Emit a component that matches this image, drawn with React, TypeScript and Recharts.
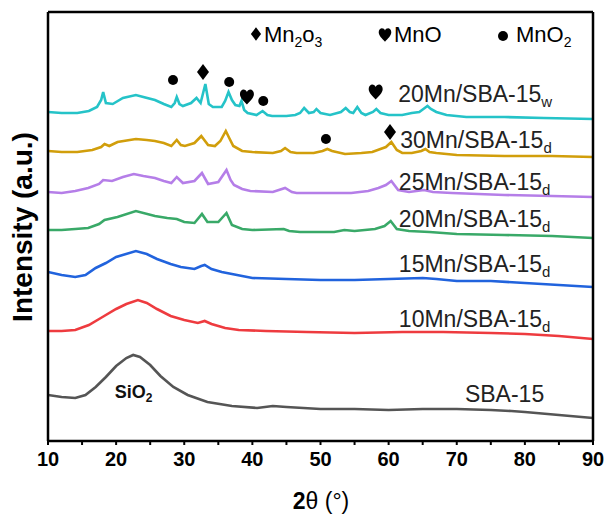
import React from "react";
import { LineChart, Line, XAxis, YAxis, ReferenceDot } from "recharts";

type Pt = [number, number];

// 2θ (deg) vs. offset-stacked intensity (a.u.)
const mn20w: Pt[] = [
  [10, 329], [12, 328], [14.3, 328], [16, 330], [17.2, 334], [17.8, 341], [18.1, 349], [18.5, 338],
  [19.5, 337], [21, 343], [22.9, 346], [24, 344], [25.7, 341], [27, 337], [28.1, 334], [28.6, 338],
  [28.9, 344], [29.3, 337], [29.8, 335], [31, 338], [31.8, 343], [32.4, 338], [33.1, 357], [33.6, 337],
  [34.2, 334], [35.5, 334], [36, 340], [36.5, 349], [37, 341], [37.5, 336], [38.1, 335], [38.4, 340],
  [38.8, 331], [39.3, 328], [40.6, 326], [41.5, 330], [42.2, 326], [42.9, 325], [45, 325], [46.3, 326],
  [47, 328], [47.6, 333], [48.3, 328], [49, 329], [49.4, 332], [50, 328], [51.4, 326], [53, 329],
  [53.7, 333], [54.3, 329], [54.8, 328], [55.4, 334], [56, 328], [56.6, 326], [57.7, 329], [58.2, 332],
  [58.8, 328], [60, 326], [62, 326], [63.4, 328], [64.5, 329], [65.3, 333], [65.7, 335], [66.2, 332],
  [67, 329], [68.5, 326], [71.4, 324], [77, 324], [82.8, 323], [90, 322],
];

const mn30d: Pt[] = [
  [10, 290], [12, 289], [14.3, 289], [16.5, 291], [17.8, 294], [18.3, 297], [19, 295], [20.2, 299],
  [22, 301], [22.9, 302], [24.5, 301], [25.7, 300], [27, 298], [28.1, 295], [28.9, 301], [29.5, 296],
  [30.1, 295], [31.5, 298], [32.5, 305], [33.5, 296], [34.5, 295], [35.3, 300], [36.1, 310], [36.6, 303],
  [37.2, 295], [38.5, 290], [40, 289], [43, 288], [44.2, 290], [44.8, 293], [45.6, 289], [46.5, 288],
  [49, 288], [50.3, 290], [51, 292], [51.7, 290], [53.6, 287], [56, 288], [57.6, 289], [58.8, 292],
  [59.6, 294], [60.4, 299], [61.2, 291], [62, 288], [63.4, 288], [64.8, 290], [65.4, 292], [66, 289],
  [67, 288], [70, 286], [77, 285], [84, 285], [90, 284],
];

const mn25d: Pt[] = [
  [10, 249], [12, 248], [14, 250], [15.9, 253], [17.5, 257], [18.1, 261], [19.4, 260], [21, 264],
  [22.6, 267], [24, 265], [25.7, 263], [27, 260], [28.1, 258], [28.9, 264], [29.8, 258], [31.5, 260],
  [32.6, 268], [33.5, 257], [35, 259], [36.2, 271], [36.8, 261], [37.3, 256], [38.5, 252], [39.7, 250],
  [43, 249], [44.8, 253], [45.8, 249], [46.5, 248], [50, 248], [54.5, 248], [57, 250], [58.5, 253],
  [59.6, 256], [60.4, 260], [61.4, 251], [63, 249], [65.2, 251], [66.5, 249], [69.3, 248], [77, 246],
  [84, 245], [90, 244],
];

const mn20d: Pt[] = [
  [10, 211], [12, 211], [14, 212], [15.9, 213], [17.5, 217], [18.3, 221], [20.2, 224], [22.9, 230],
  [25.7, 225], [27.5, 223], [28.9, 222], [30, 219], [31.5, 218], [32.6, 227], [33.4, 219], [35, 219],
  [36.2, 228], [37, 216], [38.5, 212], [40, 211], [44.6, 212], [45.4, 210], [47, 209], [52, 209],
  [53.5, 211], [55, 210], [58, 212], [59.4, 215], [60.3, 220], [61.2, 212], [63, 210], [66, 209],
  [70, 207], [77, 206], [84, 205], [90, 203],
];

const mn15d: Pt[] = [
  [10, 169], [12, 166], [14, 164], [15.5, 166], [17, 173], [18.5, 178], [20, 184], [22.9, 190],
  [24.5, 187], [26, 182], [28, 177], [29.5, 174], [31.5, 172], [32.5, 175], [33, 176], [34, 172],
  [35.5, 169], [37, 167], [38.5, 165], [40, 163], [45, 162], [50, 161], [55, 161], [60, 162],
  [65, 163], [67, 162], [70, 160], [75, 160], [80, 158], [85, 156], [90, 154],
];

const mn10d: Pt[] = [
  [10, 110], [12, 110], [14, 111], [16, 116], [18, 124], [20, 132], [21.5, 137], [23.2, 141],
  [24.5, 138], [26, 132], [28, 125], [30, 121], [32, 118], [33, 120], [34, 117], [36, 113],
  [38, 111], [42, 110], [48, 109], [55, 108], [62, 109], [68, 109], [75, 108], [80, 107],
  [85, 105], [90, 102],
];

const sba15: Pt[] = [
  [10, 46], [12, 44], [14, 43], [15.5, 46], [17, 54], [18.5, 64], [20, 75], [21.5, 83],
  [22.5, 86], [23.5, 84], [25, 76], [26.5, 65], [28.4, 54], [30.5, 46], [33.4, 39], [37, 35],
  [40.7, 33], [43, 35], [45, 34], [50, 32], [55, 32], [60, 31], [65, 32], [70, 32],
  [75, 31], [78, 30], [80, 29], [85, 26], [90, 23],
];

const xTicks = [10, 15, 20, 25, 30, 35, 40, 45, 50, 55, 60, 65, 70, 75, 80, 85, 90];

const series = [
  { key: "mn20w", pts: mn20w, color: "#25c3c8", name: "20Mn/SBA-15", sub: "w", at: [61.4, 339] },
  { key: "mn30d", pts: mn30d, color: "#d19e0b", name: "30Mn/SBA-15", sub: "d", at: [61.7, 293] },
  { key: "mn25d", pts: mn25d, color: "#b57ee8", name: "25Mn/SBA-15", sub: "d", at: [61.5, 251] },
  { key: "mn20d", pts: mn20d, color: "#39a968", name: "20Mn/SBA-15", sub: "d", at: [61.5, 214] },
  { key: "mn15d", pts: mn15d, color: "#2163dd", name: "15Mn/SBA-15", sub: "d", at: [61.5, 169] },
  { key: "mn10d", pts: mn10d, color: "#ee3b3f", name: "10Mn/SBA-15", sub: "d", at: [61.5, 114] },
  { key: "sba15", pts: sba15, color: "#555555", name: "SBA-15", sub: "", at: [71.2, 39] },
];

// phase markers: [2θ, height, kind]
const peakMarks: [number, number, string][] = [
  [28.35, 361, "dot"], [32.75, 369, "diamond"], [36.6, 359, "dot"], [39.2, 344, "heart"],
  [41.6, 340, "dot"], [58.1, 349, "heart"], [50.8, 302, "dot"], [60.2, 309, "diamond"],
];

const FONT = "'Liberation Sans', Arial, sans-serif";
const heartPath =
  "M 0 7.5 C -3 4 -7 1 -7 -3 C -7 -6 -5 -7.5 -3.5 -7.5 C -1.8 -7.5 -0.5 -6.5 0 -5 C 0.5 -6.5 1.8 -7.5 3.5 -7.5 C 5 -7.5 7 -6 7 -3 C 7 1 3 4 0 7.5 Z";

const Marker = ({ cx, cy, kind, s = 1 }: any) => {
  if (kind === "dot") return <circle cx={cx} cy={cy} r={5 * s} fill="#000" />;
  if (kind === "diamond")
    return (
      <path
        d={`M ${cx} ${cy - 8 * s} L ${cx + 6 * s} ${cy} L ${cx} ${cy + 8 * s} L ${cx - 6 * s} ${cy} Z`}
        fill="#000"
      />
    );
  return <path d={heartPath} transform={`translate(${cx},${cy}) scale(${s})`} fill="#000" />;
};

const XTick = ({ x, y, payload }: any) => {
  if (payload.value % 10 !== 0) return null;
  return (
    <text x={x} y={y} dy={19} textAnchor="middle" fontFamily={FONT} fontWeight="bold" fontSize={20} fill="#000">
      {payload.value}
    </text>
  );
};

const toRows = (pts: Pt[]) => pts.map(([x, y]) => ({ x, y }));

const frame = { stroke: "#000", strokeWidth: 2.5 };

export default function App() {
  return (
    <div style={{ position: "absolute", left: 0, top: 0, width: 608, height: 517, background: "#fff" }}>
      <LineChart width={608} height={517} margin={{ top: 11, right: 14, bottom: 46, left: 47 }}>
        <XAxis
          xAxisId="b"
          dataKey="x"
          type="number"
          domain={[10, 90]}
          ticks={xTicks}
          interval={0}
          height={30}
          tickSize={4}
          tickMargin={2}
          tick={<XTick />}
          axisLine={frame}
          tickLine={{ stroke: "#000", strokeWidth: 2 }}
          allowDataOverflow
        />
        <XAxis xAxisId="t" orientation="top" dataKey="x" type="number" domain={[10, 90]} height={1} tick={false} tickLine={false} axisLine={frame} />
        <YAxis yAxisId="l" type="number" domain={[0, 429]} width={1} tick={false} tickLine={false} axisLine={frame} allowDataOverflow />
        <YAxis yAxisId="r" orientation="right" type="number" domain={[0, 429]} width={1} tick={false} tickLine={false} axisLine={frame} />
        {series.map((s) => (
          <Line
            key={s.key}
            xAxisId="b"
            yAxisId="l"
            data={toRows(s.pts)}
            dataKey="y"
            type="linear"
            dot={false}
            stroke={s.color}
            strokeWidth={2.6}
            isAnimationActive={false}
          />
        ))}
        {peakMarks.map(([x, y, kind], i) => (
          <ReferenceDot key={"m" + i} xAxisId="b" yAxisId="l" x={x} y={y} r={0} shape={(p: any) => <Marker cx={p.cx} cy={p.cy} kind={kind} />} />
        ))}
        {series.map((s) => (
          <ReferenceDot
            key={"l" + s.key}
            xAxisId="b"
            yAxisId="l"
            x={s.at[0]}
            y={s.at[1]}
            r={0}
            shape={(p: any) => (
              <text x={p.cx} y={p.cy} fontFamily={FONT} fontSize={23} fill="#222">
                {s.name}
                {s.sub && (
                  <tspan fontSize={15} dy={5}>
                    {s.sub}
                  </tspan>
                )}
              </text>
            )}
          />
        ))}
        <ReferenceDot
          xAxisId="b"
          yAxisId="l"
          x={19.8}
          y={43}
          r={0}
          shape={(p: any) => (
            <text x={p.cx} y={p.cy} fontFamily={FONT} fontWeight="bold" fontSize={18} fill="#111">
              SiO<tspan fontSize={12} dy={4}>2</tspan>
            </text>
          )}
        />
      </LineChart>
      <svg width={608} height={517} style={{ position: "absolute", left: 0, top: 0, pointerEvents: "none" }}>
        <text transform="translate(32,227) rotate(-90)" textAnchor="middle" fontFamily={FONT} fontWeight="bold" fontSize={28} fill="#000">
          Intensity (a.u.)
        </text>
        <text x={321} y={509} textAnchor="middle" fontFamily={FONT} fontSize={23} fill="#000">
          <tspan fontWeight="bold">2</tspan>θ (°)
        </text>
        <Marker cx={256} cy={34} kind="diamond" s={0.85} />
        <text x={264} y={42} fontFamily={FONT} fontSize={22} fill="#000">
          Mn<tspan fontSize={14} dy={5}>2</tspan><tspan dy={-5}>o</tspan><tspan fontSize={14} dy={5}>3</tspan>
        </text>
        <Marker cx={385} cy={35} kind="heart" s={0.9} />
        <text x={394} y={42} fontFamily={FONT} fontSize={22} fill="#000">MnO</text>
        <Marker cx={503} cy={36} kind="dot" />
        <text x={516} y={42} fontFamily={FONT} fontSize={22} fill="#000">
          MnO<tspan fontSize={14} dy={5}>2</tspan>
        </text>
      </svg>
    </div>
  );
}
